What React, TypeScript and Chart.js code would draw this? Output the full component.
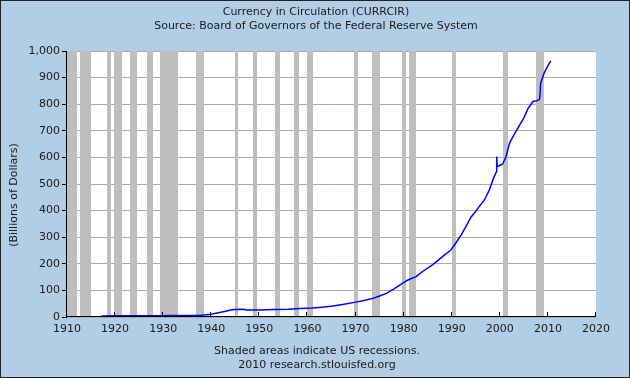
import React, { useEffect, useRef } from "react";
import { Chart, registerables } from "chart.js";

Chart.register(...registerables);

const titleLines = ["Currency in Circulation (CURRCIR)", "Source: Board of Governors of the Federal Reserve System"];
const footerLines = ["Shaded areas indicate US recessions.", "2010 research.stlouisfed.org"];
const yAxisLabel = "(Billions of Dollars)";

const years = [
  1917.2, 1920, 1925, 1930, 1932, 1935, 1938, 1940, 1941, 1942, 1943, 1944, 1945,
  1946.5, 1947.5, 1950, 1953, 1956, 1958.4, 1961, 1963, 1965.3, 1967, 1969.8, 1971.5,
  1973.6, 1975, 1976.4, 1978, 1979.8, 1981, 1982.6, 1984, 1986, 1988.1, 1989.8, 1991,
  1992, 1993, 1994, 1995, 1995.7, 1996.8, 1997.8, 1998.8, 1999.3, 1999.35, 1999.45,
  2000.6, 2001.3, 2002.0, 2002.9, 2003.9, 2004.95, 2005.9, 2006.9, 2007.5, 2008.1,
  2008.3, 2008.5, 2009.2, 2009.9, 2010.6,
];
const values = [
  4, 5, 4.5, 4.5, 5.5, 6, 7, 10, 14, 18, 22, 26, 28,
  29, 26, 26, 28, 29, 32, 34, 37, 41, 46, 55, 61,
  70, 79, 89, 106, 127, 140, 152, 172, 196, 227, 252, 282,
  310, 342, 375, 398, 415, 440, 477, 527, 546, 603, 565,
  575, 603, 653, 684, 715, 747, 785, 810, 812, 816,
  822, 880, 916, 941, 963,
];

const recessionStart = [1910.0, 1912.7, 1918.3, 1919.75, 1923.1, 1926.6, 1929.3, 1936.9, 1944.9, 1948.6, 1953.2, 1957.3, 1960.0, 1969.6, 1973.5, 1979.7, 1981.2, 1990.1, 2000.7, 2007.55];
const recessionEnd = [1912.0, 1915.0, 1919.1, 1921.4, 1924.5, 1927.85, 1933.0, 1938.4, 1945.6, 1949.6, 1954.2, 1958.2, 1961.1, 1970.6, 1975.0, 1980.4, 1982.6, 1990.9, 2001.7, 2009.2];

const xMin = 1910;
const xMax = 2020;
const xStep = 10;
const yMin = 0;
const yMax = 1000;
const yStep = 100;

const BG = "rgb(178,205,230)";
const FONT = '"DejaVu Sans", Verdana, sans-serif';

const fredPlugin = {
  id: "fredPlugin",
  beforeDraw(chart: any) {
    const { ctx, chartArea } = chart;
    ctx.save();
    ctx.fillStyle = BG;
    ctx.fillRect(0, 0, chart.width, chart.height);
    ctx.fillStyle = "#ffffff";
    ctx.fillRect(chartArea.left, chartArea.top, chartArea.right - chartArea.left, chartArea.bottom - chartArea.top);
    ctx.restore();
  },
  beforeDatasetsDraw(chart: any) {
    const { ctx, chartArea } = chart;
    const xs = chart.scales.x;
    ctx.save();
    ctx.fillStyle = "rgb(190,190,190)";
    for (let i = 0; i < recessionStart.length; i++) {
      const a = Math.round(xs.getPixelForValue(recessionStart[i]));
      const b = Math.round(xs.getPixelForValue(recessionEnd[i]));
      ctx.fillRect(a, chartArea.top, Math.max(1, b - a), chartArea.bottom - chartArea.top);
    }
    ctx.restore();
  },
  afterDatasetsDraw(chart: any) {
    const { ctx, chartArea } = chart;
    const xs = chart.scales.x;
    ctx.save();
    ctx.strokeStyle = "#000";
    ctx.lineWidth = 1;
    const L = Math.round(chartArea.left) - 0.5;
    const B = Math.round(chartArea.bottom) - 0.5;
    ctx.beginPath();
    ctx.moveTo(L, Math.round(chartArea.top));
    ctx.lineTo(L, B + 0.5);
    ctx.moveTo(L - 0.5, B);
    ctx.lineTo(Math.round(chartArea.right), B);
    for (let v = xMin + xStep; v <= xMax; v += xStep) {
      const px = Math.round(xs.getPixelForValue(v)) - 0.5;
      ctx.moveTo(px, B);
      ctx.lineTo(px, B - 4.5);
    }
    ctx.stroke();

    ctx.fillStyle = "#1a1a1a";
    ctx.font = "11px " + FONT;
    ctx.textAlign = "center";
    ctx.textBaseline = "middle";
    ctx.fillText(titleLines[0], 316, 12);
    ctx.fillText(titleLines[1], 316, 26);
    ctx.fillText(footerLines[0], 317, 351);
    ctx.fillText(footerLines[1], 317, 365);

    ctx.save();
    ctx.translate(14, 195);
    ctx.rotate(-Math.PI / 2);
    ctx.fillText(yAxisLabel, 0, 0);
    ctx.restore();

    ctx.strokeStyle = "#222";
    ctx.strokeRect(0.5, 0.5, chart.width - 1, chart.height - 1);
    ctx.restore();
  },
};

export default function App() {
  const ref = useRef<HTMLCanvasElement>(null);
  useEffect(() => {
    const data = years.map((x, i) => ({ x, y: values[i] }));
    const chart = new Chart(ref.current as HTMLCanvasElement, {
      type: "line",
      data: {
        datasets: [
          {
            label: "CURRCIR",
            data,
            borderColor: "#0000ff",
            borderWidth: 1.5,
            pointRadius: 0,
            tension: 0,
            fill: false,
          },
        ],
      },
      options: {
        animation: false,
        responsive: false,
        devicePixelRatio: 1,
        layout: { padding: { top: 51, right: 34, bottom: 31, left: 0 } },
        plugins: {
          legend: { display: false },
          tooltip: { enabled: false },
          title: { display: false },
        },
        scales: {
          x: {
            type: "linear",
            min: xMin,
            max: xMax,
            afterFit: (s: any) => {
              s.height = 30;
            },
            grid: { display: false, drawTicks: false },
            border: { display: false },
            ticks: {
              stepSize: xStep,
              padding: 6,
              color: "#1a1a1a",
              font: { family: FONT, size: 11 },
              maxRotation: 0,
              autoSkip: false,
              callback: (v: any) => String(v),
            },
          },
          y: {
            min: yMin,
            max: yMax,
            afterFit: (s: any) => {
              s.width = 67;
            },
            grid: { color: "rgb(170,170,170)", tickColor: "#000", tickLength: 5, lineWidth: 1 },
            border: { display: false },
            ticks: {
              stepSize: yStep,
              padding: 2,
              color: "#1a1a1a",
              font: { family: FONT, size: 11 },
              callback: (v: any) => Number(v).toLocaleString("en-US"),
            },
          },
        },
      },
      plugins: [fredPlugin],
    });
    return () => chart.destroy();
  }, []);
  return (
    <div style={{ position: "fixed", left: 0, top: 0, width: 630, height: 378 }}>
      <canvas ref={ref} width={630} height={378} style={{ width: 630, height: 378, display: "block" }} />
    </div>
  );
}
